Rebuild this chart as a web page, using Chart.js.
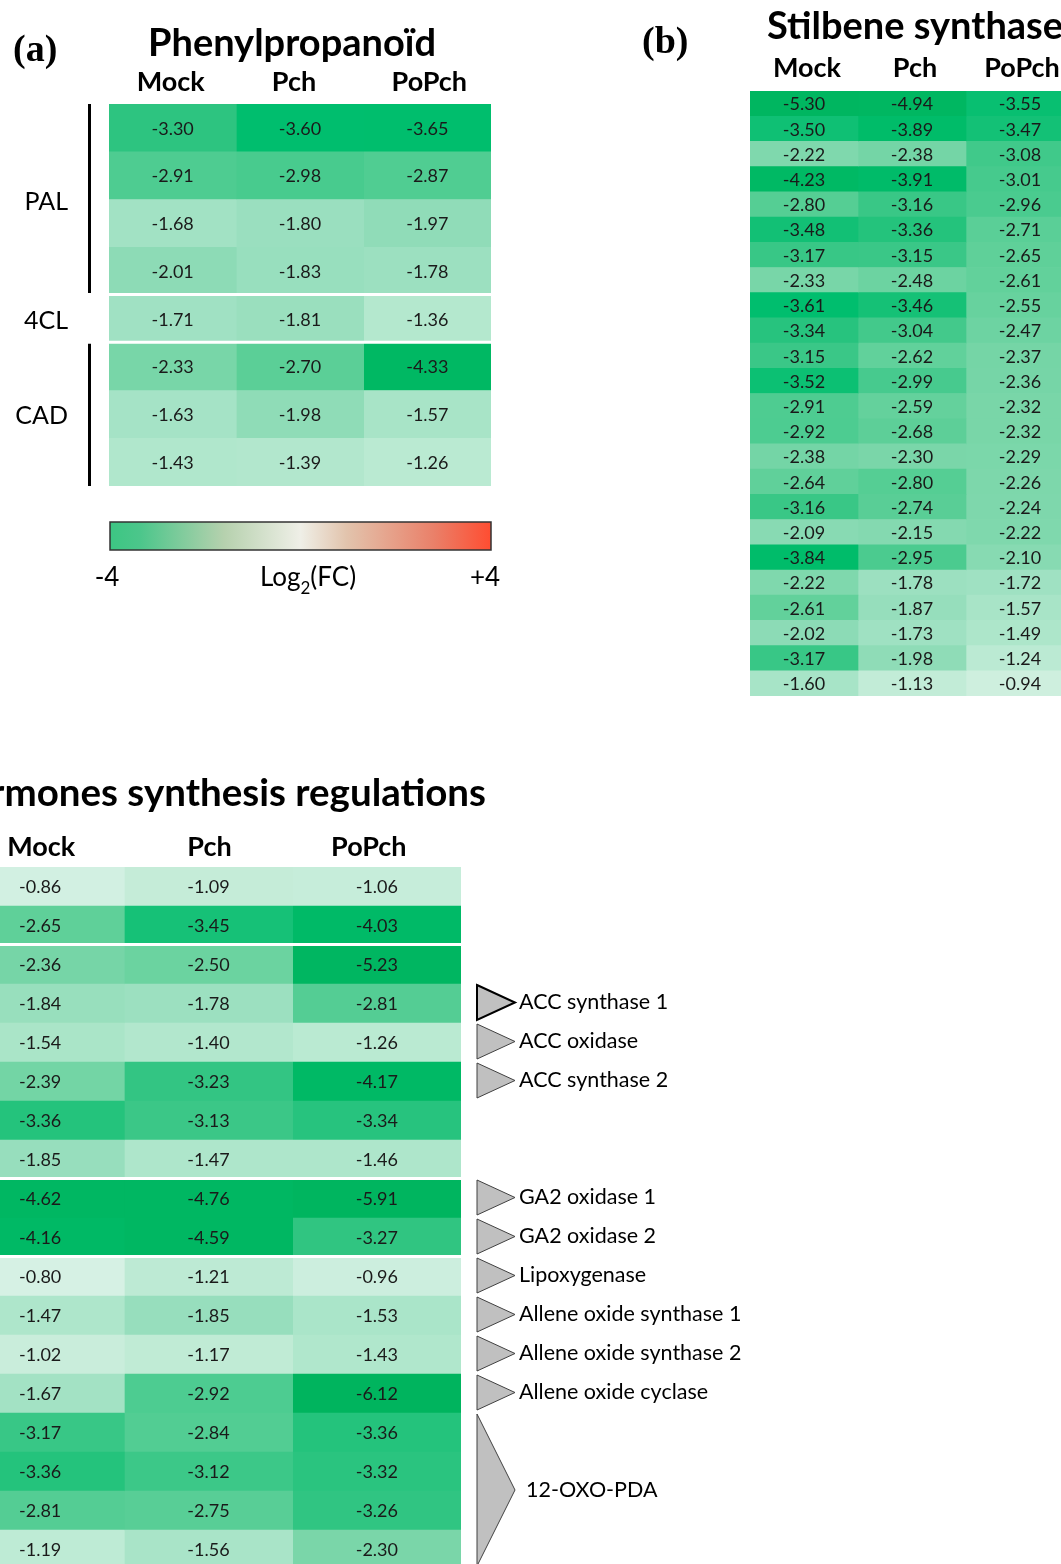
<!DOCTYPE html>
<html>
<head>
<meta charset="utf-8">
<script src="https://cdn.jsdelivr.net/npm/chart.js@4"></script>
<style>
  html, body { margin: 0; padding: 0; background: #fff; overflow: hidden; }
  body { width: 1061px; height: 1564px; position: relative; }
  canvas { position: absolute; }
  #phenyl { left: 0; top: 0; }
  #stilbene { left: 620px; top: 0; }
  #hormones { left: -44px; top: 760px; }
</style>
</head>
<body>
<canvas id="phenyl" width="600" height="640"></canvas>
<canvas id="stilbene" width="480" height="720"></canvas>
<canvas id="hormones" width="840" height="820"></canvas>
<script>
'use strict';

const conditions = ['Mock', 'Pch', 'PoPch'];

// (a) phenylpropanoid genes, log2 fold change
const phenylMock = [-3.30, -2.91, -1.68, -2.01, -1.71, -2.33, -1.63, -1.43];
const phenylPch = [-3.60, -2.98, -1.80, -1.83, -1.81, -2.70, -1.98, -1.39];
const phenylPoPch = [-3.65, -2.87, -1.97, -1.78, -1.36, -4.33, -1.57, -1.26];
const phenylGroups = ['PAL', '4CL', 'CAD'];
const phenylGroupSizes = [4, 1, 3];

// (b) stilbene synthase genes
const stilbMock = [-5.30, -3.50, -2.22, -4.23, -2.80, -3.48, -3.17, -2.33, -3.61, -3.34, -3.15, -3.52,
  -2.91, -2.92, -2.38, -2.64, -3.16, -2.09, -3.84, -2.22, -2.61, -2.02, -3.17, -1.60];
const stilbPch = [-4.94, -3.89, -2.38, -3.91, -3.16, -3.36, -3.15, -2.48, -3.46, -3.04, -2.62, -2.99,
  -2.59, -2.68, -2.30, -2.80, -2.74, -2.15, -2.95, -1.78, -1.87, -1.73, -1.98, -1.13];
const stilbPoPch = [-3.55, -3.47, -3.08, -3.01, -2.96, -2.71, -2.65, -2.61, -2.55, -2.47, -2.37, -2.36,
  -2.32, -2.32, -2.29, -2.26, -2.24, -2.22, -2.10, -1.72, -1.57, -1.49, -1.24, -0.94];

// (c) hormone synthesis genes
const hormMock = [-0.86, -2.65, -2.36, -1.84, -1.54, -2.39, -3.36, -1.85, -4.62, -4.16, -0.80, -1.47,
  -1.02, -1.67, -3.17, -3.36, -2.81, -1.19];
const hormPch = [-1.09, -3.45, -2.50, -1.78, -1.40, -3.23, -3.13, -1.47, -4.76, -4.59, -1.21, -1.85,
  -1.17, -2.92, -2.84, -3.12, -2.75, -1.56];
const hormPoPch = [-1.06, -4.03, -5.23, -2.81, -1.26, -4.17, -3.34, -1.46, -5.91, -3.27, -0.96, -1.53,
  -1.43, -6.12, -3.36, -3.32, -3.26, -2.30];
const hormGroupSizes = [2, 6, 2, 8];
const enzymeLabels = ['ACC synthase 1', 'ACC oxidase', 'ACC synthase 2', 'GA2 oxidase 1', 'GA2 oxidase 2',
  'Lipoxygenase', 'Allene oxide synthase 1', 'Allene oxide synthase 2', 'Allene oxide cyclase', '12-OXO-PDA'];
const enzymeFirstRow = [3, 4, 5, 8, 9, 10, 11, 12, 13, 14];
const enzymeLastRow = [3, 4, 5, 8, 9, 10, 11, 12, 13, 17];

const SANS = 'Lato, "Open Sans", sans-serif';
const SERIF = '"Liberation Serif", "DejaVu Serif", serif';

// green scale used for the cells (value -> rgb)
const colorStops = [
  [0, 250, 253, 251],
  [-0.8, 214, 241, 228],
  [-1.1, 196, 236, 216],
  [-1.36, 180, 232, 206],
  [-1.68, 162, 226, 196],
  [-2.01, 141, 219, 182],
  [-2.33, 120, 214, 168],
  [-2.70, 91, 207, 151],
  [-2.91, 78, 204, 145],
  [-3.30, 45, 196, 128],
  [-3.60, 0, 190, 110],
  [-4.30, 0, 184, 99],
  [-6.20, 0, 180, 94],
];

function cellColor(v) {
  if (v >= colorStops[0][0]) return `rgb(${colorStops[0].slice(1).join(',')})`;
  for (let i = 1; i < colorStops.length; i++) {
    const a = colorStops[i - 1];
    const b = colorStops[i];
    if (v >= b[0]) {
      const t = (v - a[0]) / (b[0] - a[0]);
      const c = [1, 2, 3].map(k => Math.round(a[k] + (b[k] - a[k]) * t));
      return `rgb(${c.join(',')})`;
    }
  }
  const last = colorStops[colorStops.length - 1];
  return `rgb(${last.slice(1).join(',')})`;
}

function rowBounds(chart, i) {
  const y = chart.scales.y;
  const n = chart.data.labels.length;
  const h = (chart.chartArea.bottom - chart.chartArea.top) / n;
  const mid = y.getPixelForValue(i);
  return { top: mid - h / 2, bottom: mid + h / 2, mid };
}

// plain fill under the cells so edges between bars don't show white seams
const cellBackdrop = {
  id: 'cellBackdrop',
  beforeDatasetsDraw(chart) {
    const { ctx, chartArea } = chart;
    ctx.save();
    ctx.fillStyle = '#8fdcb5';
    ctx.fillRect(chartArea.left, chartArea.top, chartArea.right - chartArea.left, chartArea.bottom - chartArea.top);
    ctx.restore();
  },
};

function cellText(fontSize) {
  return {
    id: 'cellText',
    afterDatasetsDraw(chart) {
      const ctx = chart.ctx;
      ctx.save();
      ctx.font = `${fontSize}px ${SANS}`;
      ctx.fillStyle = '#1a1a1a';
      ctx.textAlign = 'center';
      ctx.textBaseline = 'middle';
      chart.data.datasets.forEach((ds, d) => {
        chart.getDatasetMeta(d).data.forEach((bar, i) => {
          ctx.fillText(ds.values[i].toFixed(2), (bar.x + bar.base) / 2, bar.y + 1);
        });
      });
      ctx.restore();
    },
  };
}

function groupGaps(sizes) {
  return {
    id: 'groupGaps',
    afterDatasetsDraw(chart) {
      const { ctx, chartArea } = chart;
      ctx.save();
      ctx.fillStyle = '#ffffff';
      let row = 0;
      sizes.slice(0, -1).forEach(s => {
        row += s;
        const y = rowBounds(chart, row).top;
        ctx.fillRect(chartArea.left, y - 2, chartArea.right - chartArea.left, 3);
      });
      ctx.restore();
    },
  };
}

function headerRow(baseline, fontSize, shifts) {
  return {
    id: 'headerRow',
    afterDraw(chart) {
      const ctx = chart.ctx;
      ctx.save();
      ctx.font = `bold ${fontSize}px ${SANS}`;
      ctx.fillStyle = '#000';
      ctx.textAlign = 'center';
      ctx.textBaseline = 'alphabetic';
      chart.data.datasets.forEach((ds, d) => {
        const x = chart.scales.x.getPixelForValue(d + 0.5) + (shifts ? shifts[d] : 0);
        ctx.fillText(ds.label, x, baseline);
      });
      ctx.restore();
    },
  };
}

function makeHeatmap(canvasId, columns, padding, fontSize, extras) {
  return new Chart(document.getElementById(canvasId), {
    type: 'bar',
    data: {
      labels: columns[0].map((v, i) => i + 1),
      datasets: columns.map((vals, c) => ({
        label: conditions[c],
        data: vals.map(() => 1),
        values: vals,
        backgroundColor: vals.map(cellColor),
        borderWidth: 0,
        barPercentage: 1,
        categoryPercentage: 1,
      })),
    },
    options: {
      indexAxis: 'y',
      responsive: false,
      animation: false,
      devicePixelRatio: 1,
      layout: { padding },
      plugins: { legend: { display: false }, tooltip: { enabled: false } },
      scales: {
        x: { stacked: true, display: false, min: 0, max: columns.length },
        y: { stacked: true, display: false },
      },
    },
    plugins: [cellBackdrop, cellText(fontSize), ...extras],
  });
}

// ---- (a) Phenylpropanoid ----
const phenylDecor = {
  id: 'phenylDecor',
  afterDraw(chart) {
    const ctx = chart.ctx;
    ctx.save();
    ctx.fillStyle = '#000';
    ctx.font = `bold 38px ${SERIF}`;
    ctx.textAlign = 'left';
    ctx.fillText('(a)', 13, 61);
    ctx.font = `bold 38px ${SANS}`;
    ctx.textAlign = 'center';
    ctx.fillText('Phenylpropanoïd', 292, 56);

    // gene family labels with brackets
    ctx.font = `25px ${SANS}`;
    ctx.textAlign = 'right';
    ctx.textBaseline = 'middle';
    let row = 0;
    phenylGroups.forEach((name, g) => {
      const first = rowBounds(chart, row);
      const last = rowBounds(chart, row + phenylGroupSizes[g] - 1);
      ctx.fillText(name, 68, (first.top + last.bottom) / 2 + 2);
      if (phenylGroupSizes[g] > 1) {
        ctx.fillRect(88, first.top + (row ? 1 : 0), 3, last.bottom - first.top - (row ? 1 : 2));
      }
      row += phenylGroupSizes[g];
    });

    // colour key
    const x0 = 110, x1 = 491, y0 = 522, y1 = 550;
    const grad = ctx.createLinearGradient(x0, 0, x1, 0);
    grad.addColorStop(0, '#3cc683');
    grad.addColorStop(0.08, '#4cc68b');
    grad.addColorStop(0.3, '#b6d1ae');
    grad.addColorStop(0.5, '#efefe7');
    grad.addColorStop(0.62, '#e2c4ad');
    grad.addColorStop(0.85, '#ea8069');
    grad.addColorStop(1, '#ff4d31');
    ctx.fillStyle = grad;
    ctx.fillRect(x0, y0, x1 - x0, y1 - y0);
    ctx.strokeStyle = '#333';
    ctx.lineWidth = 1.5;
    ctx.strokeRect(x0, y0, x1 - x0, y1 - y0);

    ctx.fillStyle = '#000';
    ctx.textBaseline = 'alphabetic';
    ctx.font = `26px ${SANS}`;
    ctx.textAlign = 'center';
    ctx.fillText('-4', 107, 586);
    ctx.fillText('+4', 485, 586);
    const w1 = ctx.measureText('Log').width;
    const w3 = ctx.measureText('(FC)').width;
    ctx.font = `17px ${SANS}`;
    const w2 = ctx.measureText('2').width;
    let x = 308 - (w1 + w2 + w3) / 2;
    ctx.textAlign = 'left';
    ctx.font = `26px ${SANS}`;
    ctx.fillText('Log', x, 586);
    x += w1;
    ctx.font = `17px ${SANS}`;
    ctx.fillText('2', x, 594);
    x += w2;
    ctx.font = `26px ${SANS}`;
    ctx.fillText('(FC)', x, 586);
    ctx.restore();
  },
};

makeHeatmap('phenyl', [phenylMock, phenylPch, phenylPoPch],
  { left: 109, right: 109, top: 104, bottom: 154 }, 18,
  [groupGaps(phenylGroupSizes), headerRow(91, 27, [-2, -6, 2]), phenylDecor]);

// ---- (b) Stilbene synthase ----
const stilbDecor = {
  id: 'stilbDecor',
  afterDraw(chart) {
    const ctx = chart.ctx;
    ctx.save();
    ctx.fillStyle = '#000';
    ctx.font = `bold 38px ${SERIF}`;
    ctx.textAlign = 'left';
    ctx.fillText('(b)', 22, 53);
    ctx.font = `bold 38px ${SANS}`;
    ctx.fillText('Stilbene synthase', 147, 39);
    ctx.restore();
  },
};

makeHeatmap('stilbene', [stilbMock, stilbPch, stilbPoPch],
  { left: 130, right: 26, top: 91, bottom: 24 }, 18,
  [headerRow(77, 27, [3, 3, 2]), stilbDecor]);

// ---- (c) Hormone synthesis ----
const hormDecor = {
  id: 'hormDecor',
  afterDraw(chart) {
    const ctx = chart.ctx;
    ctx.save();
    ctx.fillStyle = '#000';
    ctx.font = `bold 38.5px ${SANS}`;
    ctx.textAlign = 'right';
    ctx.fillText('Hormones synthesis regulations', 530, 46);

    // enzyme markers to the right of the rows
    const tx0 = 521, tx1 = 559;
    enzymeLabels.forEach((name, k) => {
      const top = rowBounds(chart, enzymeFirstRow[k]).top + 1;
      const bottom = rowBounds(chart, enzymeLastRow[k]).bottom - 3;
      const mid = (top + bottom) / 2;
      ctx.beginPath();
      ctx.moveTo(tx0, top);
      ctx.lineTo(tx1, mid);
      ctx.lineTo(tx0, bottom);
      ctx.closePath();
      ctx.fillStyle = '#c0c0c0';
      ctx.fill();
      ctx.strokeStyle = k === 0 ? '#000' : '#404040';
      ctx.lineWidth = k === 0 ? 2 : 1;
      ctx.stroke();
      ctx.fillStyle = '#000';
      ctx.font = `21.5px ${SANS}`;
      ctx.textAlign = 'left';
      ctx.textBaseline = 'middle';
      ctx.fillText(name, enzymeFirstRow[k] === enzymeLastRow[k] ? tx1 + 4 : tx1 + 11, mid);
    });
    ctx.restore();
  },
};

makeHeatmap('hormones', [hormMock, hormPch, hormPoPch],
  { left: 0, right: 335, top: 107, bottom: 11 }, 18,
  [groupGaps(hormGroupSizes), headerRow(96, 27, [1, 1, -8]), hormDecor]);
</script>
</body>
</html>
